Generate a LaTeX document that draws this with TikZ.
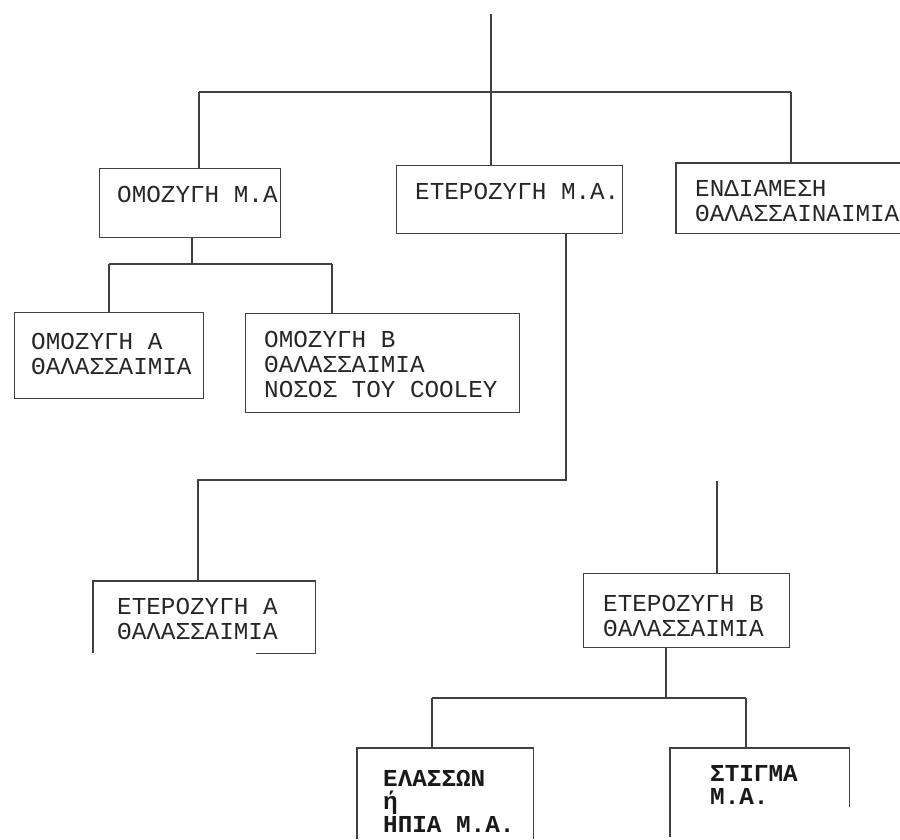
\documentclass[tikz,border=0pt]{standalone}
\usepackage{fontspec}
\newfontfamily\boxfont{Liberation Mono}
\usetikzlibrary{calc}
\begin{document}
\begin{tikzpicture}[x=1pt,y=-1pt,
  wire/.style={draw=black!75, line width=1.1pt},
  boxshape/.style={rectangle, inner sep=0pt, anchor=north west},
  framed/.style={boxshape, draw=black!75, line width=1.1pt},
  txt/.style={font=\boxfont\fontsize{24.3}{25}\selectfont, text=black!85, align=left, anchor=north west, inner sep=0pt},
  boldtxt/.style={txt, font=\boxfont\bfseries\fontsize{24.3}{23}\selectfont, text=black!90}]
\useasboundingbox (0,0) rectangle (900,839);

% boxes
\node[framed, minimum width=181pt, minimum height=69pt] (o1) at (99,168) {};
\node[framed, minimum width=226pt, minimum height=68pt] (e1) at (396,165) {};
\node[boxshape, minimum width=230pt, minimum height=70pt] (n) at (676,163) {};
\node[framed, minimum width=189pt, minimum height=86pt] (oa) at (14,312) {};
\node[framed, minimum width=274pt, minimum height=99pt] (ob) at (245,313) {};
\node[boxshape, minimum width=222pt, minimum height=72pt] (ea) at (93,581) {};
\node[framed, minimum width=206pt, minimum height=74pt] (eb) at (583,573) {};
\node[boxshape, minimum width=176pt, minimum height=91pt] (el) at (357,748) {};
\node[boxshape, minimum width=179pt, minimum height=91pt] (st) at (670,748) {};

% open / partial frames
\draw[wire] (n.north east) -- (n.north west) -- (n.south west) -- (n.south east);
\draw[wire] (ea.south west) -- (ea.north west) -- (ea.north east) -- (ea.south east) -- ($(ea.south east)+(-59,0)$);
\draw[wire] (el.south west) -- (el.north west) -- (el.north east) -- (el.south east);
\draw[wire] ($(st.south west)+(0,-2)$) -- (st.north west) -- (st.north east) -- ($(st.north east)+(0,59)$);

% texts
\node[txt] (o1t) at (117,186) {ΟΜΟΖΥΓΗ Μ.Α};
\node[txt] (e1t) at (415,183) {ΕΤΕΡΟΖΥΓΗ Μ.Α.};
\node[txt] (nt) at (695,180) {ΕΝΔΙΑΜΕΣΗ\\ΘΑΛΑΣΣΑΙΝΑΙΜΙΑ};
\node[txt] (oat) at (31,333) {ΟΜΟΖΥΓΗ Α\\ΘΑΛΑΣΣΑΙΜΙΑ};
\node[txt] (obt) at (264,331) {ΟΜΟΖΥΓΗ Β\\ΘΑΛΑΣΣΑΙΜΙΑ\\ΝΟΣΟΣ ΤΟΥ COOLEY};
\node[txt] (eat) at (117,598) {ΕΤΕΡΟΖΥΓΗ Α\\ΘΑΛΑΣΣΑΙΜΙΑ};
\node[txt] (ebt) at (603,595) {ΕΤΕΡΟΖΥΓΗ Β\\ΘΑΛΑΣΣΑΙΜΙΑ};
\node[boldtxt] (elt) at (383,770) {ΕΛΑΣΣΩΝ\\ή\\ΗΠΙΑ Μ.Α.};
\node[boldtxt] (stt) at (710,765) {ΣΤΙΓΜΑ\\Μ.Α.};

% top level connectors
\coordinate (top) at (491,14);
\coordinate (b1l) at (199,92);
\coordinate (b1r) at (791,92);
\draw[wire] (top) -- (e1.north -| top);
\draw[wire] (b1l) -- (b1r);
\draw[wire] (b1l) -- (o1.north -| b1l);
\draw[wire] (b1r) -- (n.north -| b1r);

% homozygous branch
\coordinate (j2) at (192,264);
\coordinate (b2l) at (109,264);
\coordinate (b2r) at (332,264);
\draw[wire] (o1.south -| j2) -- (j2);
\draw[wire] (b2l) -- (b2r);
\draw[wire] (b2l) -- (oa.north -| b2l);
\draw[wire] (b2r) -- (ob.north -| b2r);

% heterozygous branch
\coordinate (j3) at (566,480);
\coordinate (b3l) at (198,480);
\draw[wire] (e1.south -| j3) -- (j3) -- (b3l) -- (ea.north -| b3l);
\coordinate (t4) at (717,481);
\draw[wire] (t4) -- (eb.north -| t4);

% beta heterozygous branch
\coordinate (j5) at (666,698);
\coordinate (b5l) at (432,698);
\coordinate (b5r) at (746,698);
\draw[wire] (eb.south -| j5) -- (j5);
\draw[wire] (b5l) -- (b5r);
\draw[wire] (b5l) -- (el.north -| b5l);
\draw[wire] (b5r) -- (st.north -| b5r);
\end{tikzpicture}
\end{document}
